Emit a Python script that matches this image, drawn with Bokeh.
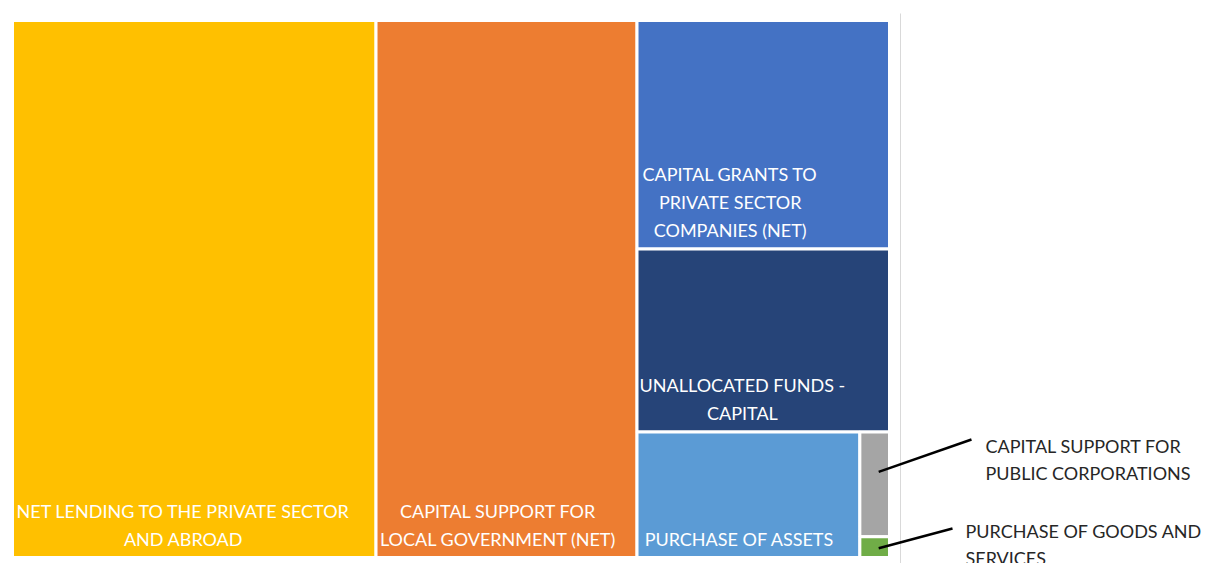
from bokeh.plotting import figure
from bokeh.models import Range1d, ColumnDataSource
from bokeh.core.properties import value
from bokeh.embed import file_html
from bokeh.resources import INLINE

# ---------------- data ----------------
categories = [
    "NET LENDING TO THE PRIVATE SECTOR AND ABROAD",
    "CAPITAL SUPPORT FOR LOCAL GOVERNMENT (NET)",
    "CAPITAL GRANTS TO PRIVATE SECTOR COMPANIES (NET)",
    "UNALLOCATED FUNDS - CAPITAL",
    "PURCHASE OF ASSETS",
    "CAPITAL SUPPORT FOR PUBLIC CORPORATIONS",
    "PURCHASE OF GOODS AND SERVICES",
]
values = [41450, 29760, 12250, 9810, 5940, 660, 130]
label_lines = [
    ["NET LENDING TO THE PRIVATE SECTOR", "AND ABROAD"],
    ["CAPITAL SUPPORT FOR", "LOCAL GOVERNMENT (NET)"],
    ["CAPITAL GRANTS TO", "PRIVATE SECTOR", "COMPANIES (NET)"],
    ["UNALLOCATED FUNDS -", "CAPITAL"],
    ["PURCHASE OF ASSETS"],
    ["CAPITAL SUPPORT FOR", "PUBLIC CORPORATIONS"],
    ["PURCHASE OF GOODS AND", "SERVICES"],
]
colors = ["#FFC000", "#ED7D31", "#4472C4", "#264478", "#5B9BD5", "#A5A5A5", "#70AD47"]

# nesting of the treemap (alternating column / row splits)
tree = [0, 1, [2, 3, [4, [5, 6]]]]

# ---------------- layout ----------------
W, H = 1205, 563
X0, X1, Y0, Y1 = 12, 889, 20, 557
FONT = "Lato"
FS = 18
LINE_H = 28
CHAR_TABLE = {" ": 4.4, "I": 4.5, "-": 6.0, "(": 6.0, ")": 6.0, "M": 16.0, "W": 16.0}

def text_w(s):
    return sum(CHAR_TABLE.get(c, 11.5) for c in s)

def total(node):
    if isinstance(node, int):
        return values[node]
    return sum(total(c) for c in node)

rects = {}

def layout(node, x0, y0, x1, y1, horizontal):
    if isinstance(node, int):
        rects[node] = (x0, y0, x1, y1)
        return
    t = total(node)
    pos = x0 if horizontal else y0
    for child in node:
        frac = total(child) / t
        if horizontal:
            nxt = pos + frac * (x1 - x0)
            layout(child, pos, y0, nxt, y1, not horizontal)
        else:
            nxt = pos + frac * (y1 - y0)
            layout(child, x0, pos, x1, nxt, not horizontal)
        pos = nxt

layout(tree, X0, Y0, X1, Y1, True)

idx = list(range(len(values)))
src = ColumnDataSource(dict(
    left=[rects[i][0] for i in idx],
    right=[rects[i][2] for i in idx],
    top=[rects[i][1] for i in idx],
    bottom=[rects[i][3] for i in idx],
    color=colors,
    name=categories,
    value=values,
))

p = figure(width=W, height=H, output_backend="svg", toolbar_location=None,
           x_range=Range1d(0, W), y_range=Range1d(H, 0),
           min_border=0, outline_line_color=None)
p.axis.visible = False
p.grid.visible = False
p.background_fill_color = "white"
p.border_fill_color = "white"

p.quad(left="left", right="right", top="top", bottom="bottom", source=src,
       fill_color="color", line_color="white", line_width=3)

# chart-area border on the right
p.segment(x0=[900], y0=[13], x1=[900], y1=[H], line_color="#d9d9d9", line_width=1)

# inside labels (white, bottom-left anchored block, lines centred)
lx, ly, lt = [], [], []
for i in range(5):
    l, t_, r, b = rects[i]
    lines = label_lines[i]
    bw = max(text_w(s) for s in lines)
    cx = l + 6 + bw / 2
    n = len(lines)
    for k, s in enumerate(lines):
        lx.append(cx)
        ly.append(b - 19 - (n - 1 - k) * LINE_H)
        lt.append(s)
p.text(x=lx, y=ly, text=lt, text_color="white", text_font=value(FONT),
       text_font_size=f"{FS}px", text_align="center", text_baseline="middle")

# callouts for the small cells
call_targets = {5: (971, 439), 6: (952, 528)}
call_text_pos = {5: (985, 445), 6: (965, 530)}
for i in (5, 6):
    l, t_, r, b = rects[i]
    sx = (l + r) / 2 + 4
    sy = t_ + (b - t_) * 0.38 if i == 5 else (t_ + b) / 2 + 1
    tx, ty = call_targets[i]
    p.line(x=[sx, tx], y=[sy, ty], line_color="black", line_width=2.5)
    px, py = call_text_pos[i]
    p.text(x=[px] * len(label_lines[i]),
           y=[py + k * 27 for k in range(len(label_lines[i]))],
           text=label_lines[i], text_color="#262626", text_font=value(FONT),
           text_font_size=f"{FS}px", text_align="left", text_baseline="middle")

open("out.html", "w").write(file_html(p, INLINE))
